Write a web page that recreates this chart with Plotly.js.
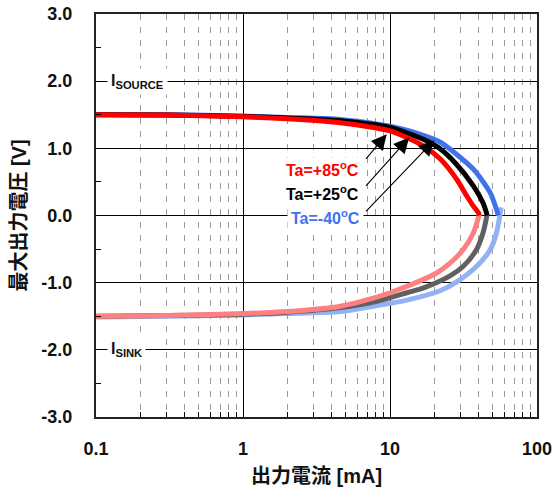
<!DOCTYPE html>
<html>
<head>
<meta charset="utf-8">
<script src="https://cdn.plot.ly/plotly-3.0.1.min.js"></script>
<style>html,body{margin:0;padding:0;background:#fff;}#chart{width:557px;height:498px;}</style>
</head>
<body>
<div id="chart"></div>
<script>
// ---- data (output current mA, max output voltage V) ----
const redUpI   = [0.1, 0.3, 1, 2, 4.6, 7.7, 10, 13, 17, 22, 28.4, 33.3, 36.9, 39.9, 40.5];
const redUpV   = [1.50, 1.495, 1.47, 1.44, 1.38, 1.31, 1.26, 1.16, 1.03, 0.84, 0.54, 0.29, 0.14, 0.04, 0.0];
const redLoI   = [40.5, 36.9, 31.4, 25.6, 20.6, 15, 10, 7.7, 4.6, 2, 1, 0.3, 0.1];
const redLoV   = [0.02, -0.26, -0.51, -0.71, -0.86, -1.0, -1.15, -1.23, -1.35, -1.43, -1.46, -1.49, -1.50];

const blackUpI = [0.1, 0.3, 1, 2, 4.6, 10, 13, 17, 22, 28.4, 36.9, 42.9, 45.3, 45.8];
const blackUpV = [1.50, 1.497, 1.475, 1.45, 1.41, 1.31, 1.23, 1.13, 0.99, 0.76, 0.44, 0.19, 0.04, 0.0];
const blackLoI = [45.8, 42.9, 38.7, 31.4, 25.6, 17.3, 13, 8, 4.6, 2, 1, 0.3, 0.1];
const blackLoV = [0.02, -0.26, -0.51, -0.76, -0.9, -1.07, -1.15, -1.28, -1.37, -1.44, -1.47, -1.49, -1.50];

const blueUpI  = [0.1, 0.3, 1, 2, 4.6, 10, 13, 17, 22, 28.4, 36.9, 48, 53, 54.5];
const blueUpV  = [1.505, 1.50, 1.48, 1.46, 1.43, 1.33, 1.27, 1.19, 1.09, 0.91, 0.69, 0.34, 0.09, 0.0];
const blueLoI  = [57, 53, 48, 38.7, 28.8, 21.9, 13, 7.7, 4.6, 2, 1, 0.3, 0.1];
const blueLoV  = [0.12, -0.26, -0.51, -0.76, -0.98, -1.12, -1.26, -1.35, -1.43, -1.46, -1.48, -1.50, -1.51];

const xTickVals = [0.1, 1, 10, 100];
const xTickText = ['0.1', '1', '10', '100'];
const yTickVals = [-3, -2, -1, 0, 1, 2, 3];
const yTickText = ['-3.0', '-2.0', '-1.0', '0.0', '1.0', '2.0', '3.0'];

const seriesLabels = ['Ta=+85<sup>o</sup>C', 'Ta=+25<sup>o</sup>C', 'Ta=-40<sup>o</sup>C'];

// ---- styles ----
const RED = '#ff0000', BLACK = '#000000', BLUE = '#3f73ee';
const RED_L = '#ff8080', BLACK_L = '#606060', BLUE_L = '#93b2f6';
const FONT = '"Liberation Sans", Arial, "Noto Sans CJK JP", sans-serif';

function tr(x, y, color, w) {
  return {x: x, y: y, type: 'scatter', mode: 'lines', hoverinfo: 'skip',
    line: {color: color, width: w, shape: 'spline', smoothing: 0.8}, showlegend: false};
}

const data = [
  tr(blueLoI, blueLoV, BLUE_L, 5),
  tr(blackLoI, blackLoV, BLACK_L, 5),
  tr(redLoI, redLoV, RED_L, 5),
  tr(blueUpI, blueUpV, BLUE, 5),
  tr(blackUpI, blackUpV, BLACK, 5),
  tr(redUpI, redUpV, RED, 5)
];

const lg = Math.log10;
const arrowBase = {xref: 'x', yref: 'y', axref: 'x', ayref: 'y', text: ' ', showarrow: true,
  arrowhead: 2, arrowsize: 2.8, arrowwidth: 1.1, arrowcolor: '#000'};

const annotations = [
  Object.assign({}, arrowBase, {x: lg(9.5), y: 1.21, ax: lg(6.55), ay: 0.79}),
  Object.assign({}, arrowBase, {x: lg(13.5), y: 1.16, ax: lg(6.55), ay: 0.39}),
  Object.assign({}, arrowBase, {x: lg(20), y: 1.12, ax: lg(6.55), ay: 0.015}),
  {xref: 'paper', yref: 'y', x: 0.602, y: 0.69, xanchor: 'right', yanchor: 'middle', showarrow: false,
   text: seriesLabels[0], font: {family: FONT, size: 16, color: RED, weight: 'bold'}, bgcolor: '#fff', borderpad: 1},
  {xref: 'paper', yref: 'y', x: 0.602, y: 0.34, xanchor: 'right', yanchor: 'middle', showarrow: false,
   text: seriesLabels[1], font: {family: FONT, size: 16, color: BLACK, weight: 'bold'}, bgcolor: '#fff', borderpad: 1},
  {xref: 'paper', yref: 'y', x: 0.608, y: -0.015, xanchor: 'right', yanchor: 'middle', showarrow: false,
   text: seriesLabels[2], font: {family: FONT, size: 16, color: BLUE, weight: 'bold'}, bgcolor: '#fff', borderpad: 3},
  {xref: 'paper', yref: 'y', x: 0.025, y: 2.0, xanchor: 'left', yanchor: 'middle', showarrow: false,
   text: 'I<sub>SOURCE</sub>', font: {family: FONT, size: 16, color: '#111', weight: 'bold'}, bgcolor: '#fff', borderpad: 3},
  {xref: 'paper', yref: 'y', x: 0.025, y: -2.0, xanchor: 'left', yanchor: 'middle', showarrow: false,
   text: 'I<sub>SINK</sub>', font: {family: FONT, size: 16, color: '#111', weight: 'bold'}, bgcolor: '#fff', borderpad: 3}
];

const layout = {
  width: 557, height: 498,
  margin: {l: 96, r: 20, t: 14, b: 81},
  paper_bgcolor: '#fff', plot_bgcolor: '#fff',
  showlegend: false,
  xaxis: {
    type: 'log', range: [-1, 2], tickmode: 'array', tickvals: xTickVals, ticktext: xTickText,
    showgrid: true, gridcolor: '#000', gridwidth: 1,
    ticks: 'inside', ticklen: 5, tickcolor: '#000',
    showline: true, linecolor: '#222', linewidth: 2, mirror: true,
    zeroline: false, ticklabelstandoff: 14,
    tickfont: {family: FONT, size: 18, color: '#111', weight: 'bold'},
    minor: {dtick: 'D1', ticks: 'inside', ticklen: 5, tickcolor: '#000',
            showgrid: true, gridcolor: '#9a9a9a', gridwidth: 1, griddash: '6px,7px'},
    title: {text: '出力電流 [mA]', font: {family: FONT, size: 20, color: '#111', weight: 'bold'}, standoff: 11}
  },
  yaxis: {
    range: [-3, 3], tickmode: 'array', tickvals: yTickVals, ticktext: yTickText,
    showgrid: true, gridcolor: '#000', gridwidth: 1,
    ticks: 'inside', ticklen: 5, tickcolor: '#000',
    showline: true, linecolor: '#222', linewidth: 2, mirror: true,
    zeroline: false, ticklabelstandoff: 18,
    tickfont: {family: FONT, size: 18, color: '#111', weight: 'bold'},
    minor: {dtick: 0.5, tick0: 0, ticks: 'inside', ticklen: 5, tickcolor: '#000', showgrid: false},
    title: {text: '最大出力電圧 [V]', font: {family: FONT, size: 20, color: '#111', weight: 'bold'}, standoff: 9}
  },
  annotations: annotations
};

Plotly.newPlot('chart', data, layout, {displayModeBar: false, staticPlot: true});
</script>
</body>
</html>
